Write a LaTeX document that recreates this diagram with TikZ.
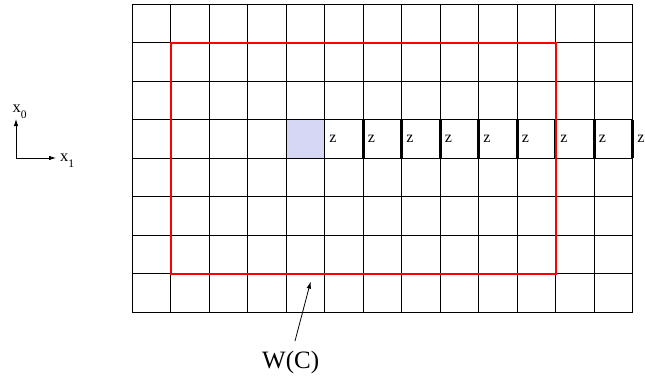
\documentclass[tikz,border=0pt]{standalone}
\usepackage{fontspec}
\setmainfont{Liberation Serif}
\usetikzlibrary{arrows.meta}
\definecolor{CellBlue}{HTML}{D6D6F5}
\definecolor{WindowRed}{HTML}{FF0000}
\newcommand{\axsub}[1]{\raisebox{-6pt}{\fontsize{11.5}{11.5}\selectfont #1}}

\begin{document}
\begin{tikzpicture}[
  x=1pt,y=-1pt,
  >={Latex[length=7pt,width=4.5pt]},
  gridline/.style={line width=0.9pt,draw=black},
  cut/.style={line width=3pt,draw=black},
  window/.style={line width=2pt,draw=WindowRed},
  zlab/.style={anchor=base west,inner sep=0pt,font=\fontsize{16}{16}\selectfont},
  axislab/.style={anchor=base west,inner sep=0pt,font=\fontsize{16.5}{16.5}\selectfont},
  pointer/.style={->,line width=0.8pt}
]
\useasboundingbox (0,0) rectangle (645,378);

% Lattice: 13 x 8 cells
\begin{scope}[shift={(132,4)},x=38.5pt,y=-38.5pt]
  \fill[CellBlue] (4,3) rectangle (5,4);
  \foreach \c in {0,...,13} \draw[gridline] (\c,0) -- (\c,8);
  \foreach \r in {0,...,8} \draw[gridline] (0,\r) -- (13,\r);
  \foreach \c in {6,...,13} \draw[cut] (\c,3) -- (\c,4);
  \foreach \c in {5,...,13} \node[zlab] (z\c) at (\c+0.12,3.6) {z};
  \draw[window] (1,1) rectangle (11,7);
  \coordinate (wtip) at (4.64,7.21);
\end{scope}

% Axes
\coordinate (orig) at (16,158);
\coordinate (uptip) at (16,119);
\coordinate (righttip) at (56,158);
\node[axislab] (xzero) at (12.5,112) {x\axsub{0}};
\node[axislab] (xone) at (60,161) {x\axsub{1}};
\draw[pointer] (orig) -- (uptip);
\draw[pointer] (orig) -- (righttip);

% Window label
\node[anchor=base west,inner sep=0pt,font=\fontsize{25}{25}\selectfont] (wc) at (262,368) {W(C)};
\coordinate (wfoot) at (295,341);
\draw[pointer] (wfoot) -- (wtip);

\end{tikzpicture}
\end{document}
